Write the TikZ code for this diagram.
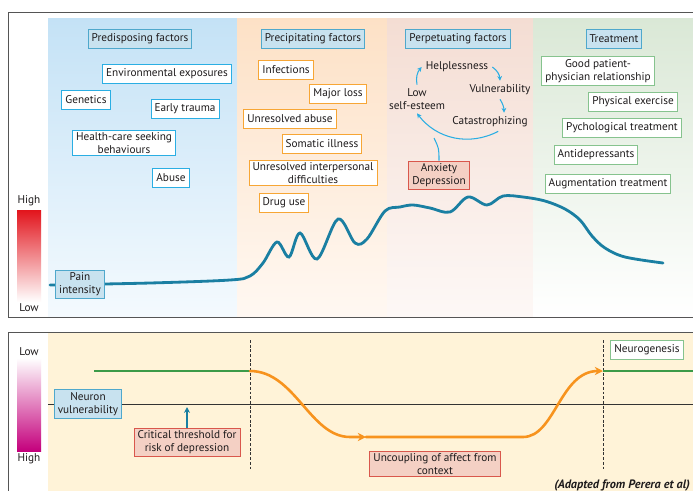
\documentclass[tikz,border=0pt]{standalone}
\usepackage{fontspec}
\setmainfont{PT Sans}
\usetikzlibrary{arrows.meta}

\definecolor{inkcol}{HTML}{1E1B1C}
\definecolor{framecol}{HTML}{555555}
\definecolor{headfill}{HTML}{C8E2EF}
\definecolor{headedge}{HTML}{4FA8CC}
\definecolor{cyanedge}{HTML}{2AAEE3}
\definecolor{orangeedge}{HTML}{F7A635}
\definecolor{greenedge}{HTML}{86C38E}
\definecolor{rededge}{HTML}{D9574C}
\definecolor{pinkfill}{HTML}{F4D0C4}
\definecolor{curvecol}{HTML}{1A7FA2}
\definecolor{ambercol}{HTML}{F7931E}
\definecolor{linegreen}{HTML}{3C9A48}
\definecolor{yellowbg}{HTML}{FFF3D8}
\definecolor{predtop}{HTML}{C4E2F6}
\definecolor{predbot}{HTML}{F4FAFE}
\definecolor{prectop}{HTML}{FDE1C6}
\definecolor{precbot}{HTML}{FFF8F2}
\definecolor{perptop}{HTML}{F4DDD3}
\definecolor{perpbot}{HTML}{FDF8F6}
\definecolor{treattop}{HTML}{DAE8D6}
\definecolor{scalered}{HTML}{E2141C}
\definecolor{scalemag}{HTML}{C4007C}

\tikzset{
  every node/.style={font=\fontsize{9.6}{10.6}\selectfont, text=inkcol, align=center},
  boxbase/.style={draw, line width=0.8pt, inner xsep=3pt, inner ysep=2.3pt, minimum height=16.5pt},
  headbox/.style={boxbase, draw=headedge, fill=headfill},
  predbox/.style={boxbase, draw=cyanedge, fill=white},
  precbox/.style={boxbase, draw=orangeedge, fill=white},
  treatbox/.style={boxbase, draw=greenedge, fill=white},
  redbox/.style={boxbase, draw=rededge, fill=pinkfill},
  cyc/.style={draw=cyanedge, line width=0.9pt, -{Stealth[length=4pt,width=4pt]}},
  amber/.style={draw=ambercol, line width=2.2pt, line cap=round},
}

\begin{document}
\begin{tikzpicture}[x=0.03cm, y=-0.03cm]
  \useasboundingbox (0,0) rectangle (693,491);
  \fill[white] (0,0) rectangle (693,491);

  % top panel: coloured stages
  \shade[top color=predtop, bottom color=predbot] (48,18) rectangle (237,316);
  \shade[top color=prectop, bottom color=precbot] (237,18) rectangle (387,316);
  \shade[top color=perptop, bottom color=perpbot] (387,18) rectangle (533,316);
  \shade[top color=treattop, bottom color=white] (533,18) rectangle (695,316);
  \draw[framecol, line width=0.8pt] (695,12) -- (8,12) -- (8,317) -- (695,317);

  % scale for pain
  \shade[top color=scalered, bottom color=white] (17,210) rectangle (41,302);
  \node (highA) at (29,201) {High};
  \node (lowA) at (29,308) {Low};

  % pain curve
  \draw[curvecol, line width=2.4pt, line cap=round] plot[smooth, tension=0.55] coordinates {
    (50,285) (150,283) (230,280) (250,276) (263,263) (277,242) (289,257)
    (300,233) (317,259) (338,219) (355,243) (367,239) (385,211) (400,207)
    (413,205) (430,208) (450,212) (468,197) (487,205) (503,196) (523,197)
    (545,201) (565,209) (580,220) (592,236) (605,248) (625,257) (663,263)};
  \node[headbox] (pain) at (80,284) {Pain\\intensity};

  % predisposing factors
  \node[headbox] (pred) at (140,39) {Predisposing factors};
  \node[predbox] (envexp) at (167,74) {Environmental exposures};
  \node[predbox] (genetics) at (86,100) {Genetics};
  \node[predbox] (trauma) at (185,109) {Early trauma};
  \node[predbox] (healthcare) at (124,143) {Health-care seeking\\behaviours};
  \node[predbox] (abuse) at (171,178) {Abuse};

  % precipitating factors
  \node[headbox] (precip) at (313,39) {Precipitating factors};
  \node[precbox] (infect) at (286,70) {Infections};
  \node[precbox] (majorloss) at (338,94) {Major loss};
  \node[precbox] (unabuse) at (290,119) {Unresolved abuse};
  \node[precbox] (somatic) at (322,144) {Somatic illness};
  \node[precbox] (interp) at (313,173) {Unresolved interpersonal\\difficulties};
  \node[precbox] (druguse) at (284,203) {Drug use};

  % perpetuating factors
  \node[headbox] (perp) at (458,39) {Perpetuating factors};
  \node (help) at (457,67) {Helplessness};
  \node (vuln) at (500,90) {Vulnerability};
  \node (lowse) at (417,99) {Low\\self-esteem};
  \node (catas) at (490,122) {Catastrophizing};
  \node[redbox] (anxdep) at (439,175) {Anxiety\\Depression};
  \draw[cyc] (lowse.north) to[bend left=25] (help.west);
  \draw[cyc] (help.east) to[bend left=25] (vuln.north);
  \draw[cyc] (vuln.south) to[bend left=15] ([xshift=12]catas.north);
  \draw[cyc] ([xshift=7]catas.south) to[bend left=40] (lowse.south);
  \coordinate (merge) at (434,138);
  \draw[cyanedge, line width=0.9pt] (anxdep.north) .. controls +(0,-12) .. (merge);

  % treatment
  \node[headbox] (treat) at (614,39) {Treatment};
  \node[treatbox] (goodpat) at (598,71) {Good patient-\\physician relationship};
  \node[treatbox] (physex) at (633,102) {Physical exercise};
  \node[treatbox] (psych) at (622,128) {Pychological treatment};
  \node[treatbox] (antidep) at (596,155) {Antidepressants};
  \node[treatbox] (augment) at (608,184) {Augmentation treatment};

  % bottom panel
  \fill[yellowbg] (48,333) rectangle (695,491);
  \draw[framecol, line width=0.8pt] (695,332) -- (8,332) -- (8,491);
  \shade[top color=white, bottom color=scalemag] (17,358) rectangle (41,451);
  \node (lowB) at (29,352) {Low};
  \node (highB) at (29,459) {High};

  \draw[black!80, line width=0.6pt] (48,404) -- (695,404);
  \draw[black!80, line width=0.6pt, dash pattern=on 2.5pt off 1.5pt] (250,340) -- (250,470);
  \draw[black!80, line width=0.6pt, dash pattern=on 2.5pt off 1.5pt] (603,340) -- (603,470);

  \coordinate (dropA) at (250,371);
  \coordinate (midA) at (366,437);
  \coordinate (riseB) at (603,371);
  \draw[linegreen, line width=2.4pt] (94,371) -- (dropA);
  \draw[linegreen, line width=2.4pt] (riseB) -- (695,371);
  \draw[amber, -{Stealth[length=7pt,width=7pt]}] (dropA) .. controls (295,371) and (310,437) .. (350,437) -- (midA);
  \draw[amber, -{Stealth[length=7pt,width=7pt]}] (midA) -- (523,437) .. controls (555,437) and (560,371) .. (riseB);

  \node[headbox] (neuron) at (88,404) {Neuron\\vulnerability};
  \node[redbox] (critical) at (187,442) {Critical threshold for\\risk of depression};
  \coordinate (thresh) at (187,407);
  \draw[curvecol, line width=1pt, -{Stealth[length=5pt,width=5pt]}] (critical.north) -- (thresh);
  \node[redbox] (uncoupling) at (435,464) {Uncoupling of affect from\\context};
  \node[treatbox] (neurogen) at (647,350) {Neurogenesis};
  \node[anchor=east, font=\fontsize{10.4}{11}\selectfont\bfseries\itshape] (adapted) at (694,485) {(Adapted from Perera et al)};
\end{tikzpicture}
\end{document}
